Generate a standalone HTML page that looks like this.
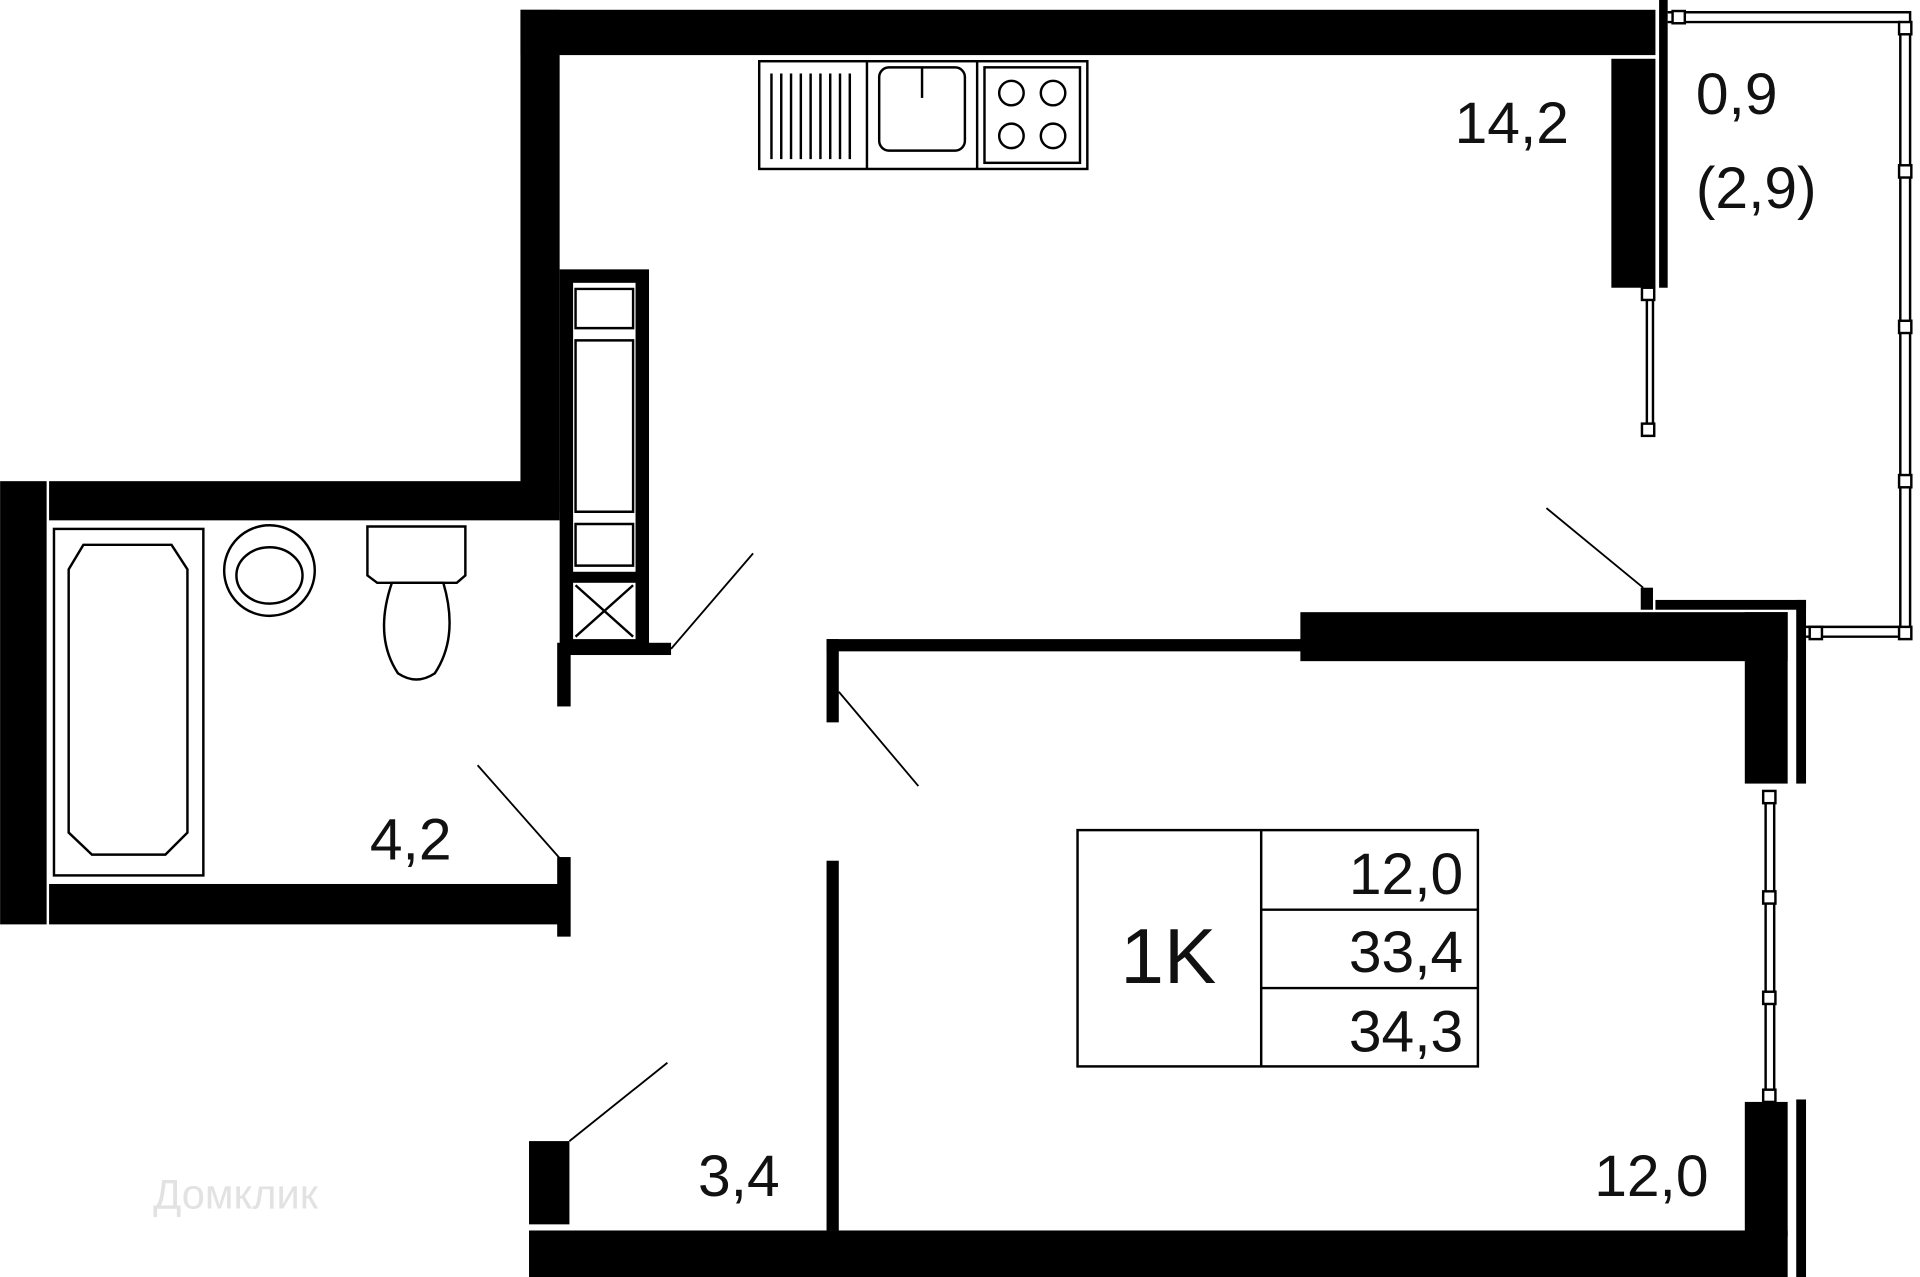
<!DOCTYPE html>
<html><head><meta charset="utf-8"><style>
html,body{margin:0;padding:0;background:#fff;}
svg{display:block;}
text{font-family:"Liberation Sans",sans-serif;fill:#111;}
</style></head><body>
<svg width="1920" height="1277" viewBox="0 0 1568 1043" xmlns="http://www.w3.org/2000/svg">
<rect width="1568" height="1043" fill="#fff"/>
<g fill="#000">
<!-- top wall -->
<rect x="425" y="8" width="927" height="37"/>
<rect x="425" y="8" width="32" height="410"/>
<!-- bathroom -->
<rect x="40" y="393" width="417" height="32"/>
<rect x="0" y="393" width="38" height="362"/>
<rect x="40" y="722" width="420" height="33"/>
<rect x="455" y="700" width="11" height="65"/>
<rect x="455" y="525" width="11" height="52"/>
<!-- cabinet column -->
<rect x="457" y="220" width="73" height="315"/>
<rect x="530" y="525" width="18" height="10"/>
<!-- kitchen right -->
<rect x="1316" y="48" width="36" height="187"/>
<rect x="1355" y="0" width="7" height="235"/>
<!-- middle wall -->
<rect x="675" y="522" width="390" height="10"/>
<rect x="675" y="522" width="10" height="68"/>
<rect x="1062" y="500" width="398" height="40"/>
<rect x="1425" y="500" width="35" height="140"/>
<rect x="1467" y="490" width="8" height="150"/>
<rect x="1340" y="480" width="10" height="18"/>
<rect x="1352" y="490" width="123" height="8"/>
<!-- right lower -->
<rect x="1425" y="900" width="35" height="110"/>
<rect x="1467" y="898" width="8" height="145"/>
<!-- bottom -->
<rect x="432" y="1005" width="1028" height="38"/>
<rect x="432" y="932" width="33" height="68"/>
<rect x="675" y="703" width="10" height="302"/>
</g>
<!-- cabinet interior -->
<g fill="#fff" stroke="#000" stroke-width="2">
<rect x="467" y="230" width="53" height="238"/>
<rect x="467" y="475" width="53" height="48"/>
</g>
<g stroke="#000" stroke-width="2" fill="none">
<path d="M470 236 L517 236 L517 268 L470 268Z M470 278 L517 278 L517 418 L470 418Z M470 428 L517 428 L517 462 L470 462Z"/>
<path d="M470 478 L517 520 M517 478 L470 520"/>
</g>
<!-- kitchen counter -->
<g stroke="#000" stroke-width="2" fill="#fff">
<rect x="620" y="50" width="268" height="88"/>
<line x1="708" y1="50" x2="708" y2="138"/>
<line x1="798" y1="50" x2="798" y2="138"/>
<rect x="718" y="55" width="70" height="68" rx="8"/>
<rect x="804" y="55" width="78" height="78"/>
<circle cx="826" cy="76" r="10"/><circle cx="860" cy="76" r="10"/>
<circle cx="826" cy="111" r="10"/><circle cx="860" cy="111" r="10"/>
</g>
<g stroke="#000" stroke-width="2">
<line x1="630" y1="60" x2="630" y2="130"/><line x1="638" y1="60" x2="638" y2="130"/><line x1="646" y1="60" x2="646" y2="130"/><line x1="654" y1="60" x2="654" y2="130"/><line x1="662" y1="60" x2="662" y2="130"/><line x1="670" y1="60" x2="670" y2="130"/><line x1="678" y1="60" x2="678" y2="130"/><line x1="686" y1="60" x2="686" y2="130"/><line x1="694" y1="60" x2="694" y2="130"/>
<line x1="753" y1="55" x2="753" y2="80"/>
</g>
<!-- bath fixtures -->
<g stroke="#000" stroke-width="2" fill="#fff">
<rect x="44" y="432" width="122" height="283"/>
<path d="M68 445 L140 445 L153 465 L153 680 L135 698 L75 698 L56 680 L56 465Z"/>
<circle cx="220" cy="466" r="37"/>
<ellipse cx="220" cy="470" rx="27" ry="23"/>
<path d="M300 430 L380 430 L380 470 L373 476 L308 476 L300 470Z"/>
<path d="M320 476 Q305 520 325 550 Q340 560 355 550 Q375 520 362 476Z"/>
</g>
<!-- balcony -->
<g stroke="#000" stroke-width="2" fill="none">
<path d="M1362 10 L1560 10 L1560 520 L1475 520"/>
<path d="M1362 18 L1552 18 L1552 512 L1475 512"/>
<line x1="1345" y1="240" x2="1345" y2="352"/><line x1="1350" y1="240" x2="1350" y2="352"/>
<line x1="1442" y1="650" x2="1442" y2="895"/><line x1="1449" y1="650" x2="1449" y2="895"/>
</g>
<g fill="#fff" stroke="#000" stroke-width="2">
<rect x="1366" y="9" width="10" height="10"/><rect x="1551" y="18" width="10" height="10"/><rect x="1551" y="135" width="10" height="10"/><rect x="1551" y="262" width="10" height="10"/><rect x="1551" y="388" width="10" height="10"/><rect x="1551" y="512" width="10" height="10"/><rect x="1478" y="512" width="10" height="10"/>
<rect x="1341" y="235" width="10" height="10"/><rect x="1341" y="346" width="10" height="10"/>
<rect x="1440" y="646" width="10" height="10"/><rect x="1440" y="728" width="10" height="10"/><rect x="1440" y="810" width="10" height="10"/><rect x="1440" y="890" width="10" height="10"/>
</g>
<!-- door swings -->
<g stroke="#000" stroke-width="1.5">
<line x1="548" y1="530" x2="615" y2="452"/>
<line x1="685" y1="565" x2="750" y2="642"/>
<line x1="390" y1="625" x2="458" y2="702"/>
<line x1="465" y1="932" x2="545" y2="868"/>
<line x1="1263" y1="415" x2="1342" y2="480"/>
</g>
<!-- labels -->
<g font-size="48">
<text x="1188" y="117">14,2</text>
<text x="1385" y="93">0,9</text>
<text x="1385" y="170">(2,9)</text>
<text x="302" y="702">4,2</text>
<text x="570" y="977">3,4</text>
<text x="1302" y="977">12,0</text>
</g>
<g stroke="#000" stroke-width="2" fill="none">
<rect x="880" y="678" width="327" height="193"/>
<line x1="1030" y1="678" x2="1030" y2="871"/>
<line x1="1030" y1="743" x2="1207" y2="743"/>
<line x1="1030" y1="807" x2="1207" y2="807"/>
</g>
<text x="915" y="803" font-size="64">1K</text>
<g font-size="48" text-anchor="end">
<text x="1195" y="730">12,0</text>
<text x="1195" y="794">33,4</text>
<text x="1195" y="859">34,3</text>
</g>
<text x="125" y="987" font-size="34" fill="#ddd" style="fill:#e2e2e2">Домклик</text>
</svg>
</body></html>
